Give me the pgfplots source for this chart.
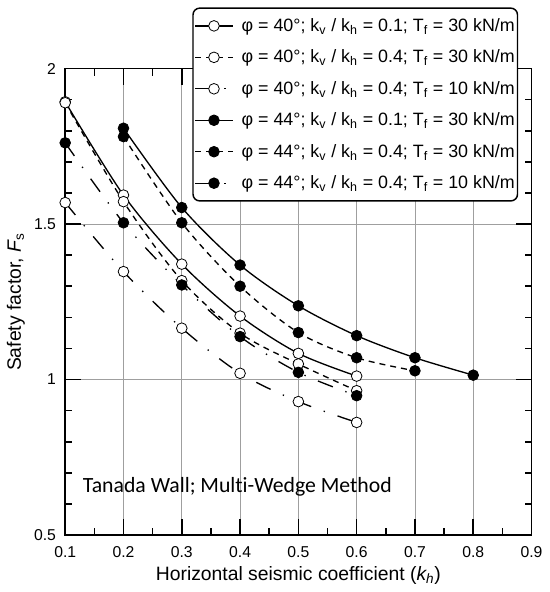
\documentclass[border=0pt]{standalone}
\usepackage{fontspec}
\setmainfont{Liberation Sans}
\newfontfamily\calibri[Ligatures=NoCommon]{Carlito}
\usepackage{pgfplots}
\pgfplotsset{compat=1.18}
\begin{document}
\begin{tikzpicture}
\begin{axis}[
  scale only axis, width=349.8pt, height=349.9pt,
  xmin=0.1, xmax=0.9, ymin=0.5, ymax=2,
  clip=false,
  xtick={0.1,0.2,0.3,0.4,0.5,0.6,0.7,0.8,0.9},
  xticklabels={0.1,0.2,0.3,0.4,0.5,0.6,0.7,0.8,0.9},
  minor xtick={0.15,0.25,0.35,0.45,0.55,0.65,0.75,0.85},
  ytick={0.5,1,1.5,2},
  yticklabels={0.5,1,1.5,2},
  minor ytick={0.6,0.7,0.8,0.9,1.1,1.2,1.3,1.4,1.6,1.7,1.8,1.9},
  /pgf/number format/assume math mode=true,
  xmajorgrids, ymajorgrids,
  major grid style={gray!75!white, line width=0.6pt},
  major tick length=12pt, minor tick length=5.25pt,
  every tick/.style={black, line width=1.2pt},
  axis line style={line width=1.4pt},
  tick label style={font=\fontsize{11.8}{13}\selectfont},
  xticklabel style={yshift=-5pt},
  yticklabel style={xshift=-3.4pt},
  xlabel={Horizontal seismic coefficient (\textit{k\textsubscript{h}})},
  ylabel={Safety factor, \textit{F}\textsubscript{s}},
  xlabel style={at={(axis description cs:0.5,-0.098)}, anchor=base, font=\fontsize{14.5}{17}\selectfont},
  ylabel style={at={(axis description cs:-0.0948,0.5)}, anchor=base, font=\fontsize{14.5}{17}\selectfont},
  legend cell align=left,
  legend image code/.code={\draw[mark repeat=2,mark phase=2,#1] plot coordinates {(0cm,0cm) (0.5cm,0cm) (1cm,0cm)};},
  legend style={at={(0.9715,1.131)}, anchor=north east, draw=black, line width=1.1pt,
    rounded corners=5pt, fill=white, inner xsep=1pt, inner ysep=1.5pt,
    font=\fontsize{13.4}{15}\selectfont,
    nodes={inner xsep=1pt, inner ysep=0pt, minimum height=23.6pt},
    column sep=5pt, row sep=0pt},
]
% phi=40, kv/kh=0.1, Tf=30
\addplot[black, line width=1pt, smooth, mark=*, mark size=4pt,
  mark options={solid, fill=white, draw=black, line width=0.6pt}]
  coordinates {(0.1,1.893) (0.2,1.593) (0.3,1.371) (0.4,1.204) (0.5,1.084) (0.6,1.011)};
\addlegendentry{φ = 40°; k\textsubscript{v} / k\textsubscript{h} = 0.1; T\textsubscript{f} = 30 kN/m}
% phi=40, kv/kh=0.4, Tf=30
\addplot[black, line width=1pt, smooth, dash pattern=on 4.5pt off 3.75pt, mark=*, mark size=4pt,
  mark options={solid, fill=white, draw=black, line width=0.6pt}]
  coordinates {(0.1,1.89) (0.2,1.572) (0.3,1.318) (0.4,1.149) (0.5,1.05) (0.6,0.964)};
\addlegendentry{φ = 40°; k\textsubscript{v} / k\textsubscript{h} = 0.4; T\textsubscript{f} = 30 kN/m}
% phi=40, kv/kh=0.4, Tf=10
\addplot[black, line width=1pt, smooth, dash pattern=on 12pt off 10pt on 1pt off 10pt, mark=*, mark size=4pt,
  mark options={solid, fill=white, draw=black, line width=0.6pt}]
  coordinates {(0.1,1.569) (0.2,1.347) (0.3,1.165) (0.4,1.02) (0.5,0.929) (0.6,0.862)};
\addlegendentry{φ = 40°; k\textsubscript{v} / k\textsubscript{h} = 0.4; T\textsubscript{f} = 10 kN/m}
% phi=44, kv/kh=0.1, Tf=30
\addplot[black, line width=1pt, smooth, mark=*, mark size=4pt,
  mark options={solid, fill=black, draw=black, line width=0.6pt}]
  coordinates {(0.2,1.808) (0.3,1.553) (0.4,1.368) (0.5,1.237) (0.6,1.141) (0.7,1.07) (0.8,1.014)};
\addlegendentry{φ = 44°; k\textsubscript{v} / k\textsubscript{h} = 0.1; T\textsubscript{f} = 30 kN/m}
% phi=44, kv/kh=0.4, Tf=30
\addplot[black, line width=1pt, smooth, dash pattern=on 4.5pt off 3.75pt, mark=*, mark size=4pt,
  mark options={solid, fill=black, draw=black, line width=0.6pt}]
  coordinates {(0.2,1.781) (0.3,1.504) (0.4,1.30) (0.5,1.151) (0.6,1.07) (0.7,1.028)};
\addlegendentry{φ = 44°; k\textsubscript{v} / k\textsubscript{h} = 0.4; T\textsubscript{f} = 30 kN/m}
% phi=44, kv/kh=0.4, Tf=10
\addplot[black, line width=1pt, smooth, dash pattern=on 12pt off 10pt on 1pt off 10pt, mark=*, mark size=4pt,
  mark options={solid, fill=black, draw=black, line width=0.6pt}]
  coordinates {(0.1,1.761) (0.2,1.504) (0.3,1.304) (0.4,1.138) (0.5,1.023) (0.6,0.948)};
\addlegendentry{φ = 44°; k\textsubscript{v} / k\textsubscript{h} = 0.4; T\textsubscript{f} = 10 kN/m}
\node[anchor=base west, inner sep=0pt, font=\calibri\fontsize{16.3}{19}\selectfont] at (axis cs:0.13,0.637) {Tanada Wall; Multi-Wedge Method};
\end{axis}
\pgfresetboundingbox
\path ([xshift=-48.9pt,yshift=-42.75pt]current axis.south west) rectangle ([xshift=13.8pt,yshift=51.4pt]current axis.north east);
\end{tikzpicture}
\end{document}
